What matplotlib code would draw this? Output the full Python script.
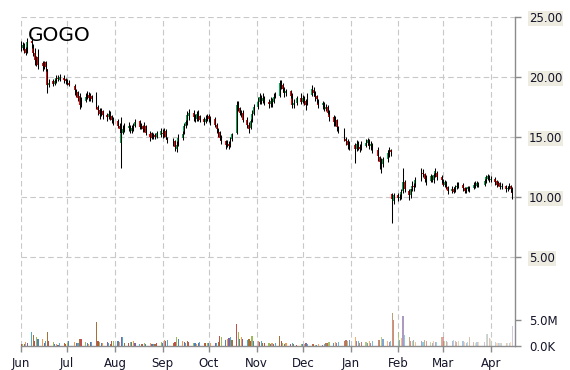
import matplotlib
matplotlib.use("Agg")
import matplotlib.pyplot as plt
import matplotlib.dates as mdates
import numpy as np
import pandas as pd

# ---------------- data ----------------
holidays = ["2015-07-03", "2015-09-07", "2015-11-26", "2015-12-25",
            "2016-01-01", "2016-01-18", "2016-02-15", "2016-03-25"]
trade_days = pd.bdate_range("2015-06-01", "2016-04-15", freq="C", holidays=holidays)

opens = [
    # Jun
    22.9, 22.4, 22.6, 22.3, 22.2, 23.0, 22.6, 22.0, 21.2, 21.6, 21.1, 20.9, 21.2, 20.6, 19.3, 19.6, 19.4, 19.6, 19.9, 19.7, 19.9, 19.8,
    # Jul
    19.7, 19.5, 19.2, 18.9, 18.7, 18.4, 17.7, 18.0, 18.3, 18.5, 18.2, 18.4, 18.4, 17.5, 17.2, 16.9, 17.1, 16.8, 16.6, 16.9, 16.7, 16.4,
    # Aug
    16.3, 15.9, 14.5, 15.3, 15.6, 15.7, 15.9, 15.5, 15.7, 15.9, 16.3, 15.8, 15.9, 15.6, 15.9, 15.2, 15.3, 14.9, 15.1, 15.0, 15.1,
    # Sep
    15.3, 15.2, 15.5, 14.9, 14.8, 14.6, 14.0, 14.3, 14.9, 15.3, 15.9, 16.2, 16.7, 17.0, 16.6, 16.5, 16.9, 16.7, 16.5, 16.2, 16.4,
    # Oct
    16.7, 16.3, 16.5, 16.0, 15.6, 15.4, 14.9, 14.6, 14.3, 14.4, 14.2, 14.8, 15.3, 17.7, 17.4, 17.0, 17.0, 16.4, 16.0, 15.7, 16.3, 16.9,
    # Nov
    17.5, 17.9, 18.3, 18.0, 18.2, 17.9, 17.7, 18.0, 17.9, 18.3, 18.4, 19.5, 19.3, 19.0, 18.6, 18.8, 18.5, 17.6, 17.8, 18.2,
    # Dec
    17.9, 18.2, 18.0, 17.7, 18.5, 18.9, 18.7, 18.4, 18.0, 17.6, 17.8, 17.3, 17.5, 17.0, 16.6, 16.2, 16.4, 15.8, 15.5, 14.8, 14.6, 14.4,
    # Jan
    14.3, 14.0, 14.4, 14.1, 14.0, 14.2, 14.5, 14.7, 14.2, 14.3, 13.9, 13.3, 12.9, 12.7, 13.1, 13.5, 13.9, 10.2, 9.6,
    # Feb
    10.1, 9.9, 10.0, 10.5, 11.2, 10.5, 10.1, 10.7, 10.9, 10.9, 11.4, 12.0, 11.9, 11.6, 11.3, 11.7, 11.4, 11.8, 12.0, 11.6,
    # Mar
    11.4, 11.0, 11.2, 10.8, 10.5, 10.6, 10.5, 10.8, 10.9, 11.0, 10.7, 10.4, 10.6, 10.8, 10.7, 11.0, 10.9, 11.1, 11.0, 11.2, 11.5, 11.7,
    # Apr
    11.4, 11.5, 11.3, 11.0, 11.1, 10.8, 10.9, 10.6, 10.7, 10.9, 10.6,
]

highs = [
    23.0, 22.9, 22.8, 22.5, 23.2, 23.3, 22.7, 22.4, 21.7, 22.3, 21.3, 21.3, 21.3, 20.6, 19.8, 19.8, 19.8, 20.1, 20.1, 20.2, 20.1, 19.9,
    19.8, 19.7, 19.4, 19.0, 18.8, 18.6, 18.3, 18.6, 18.8, 18.7, 18.6, 18.5, 18.7, 17.6, 17.4, 17.4, 17.2, 17.0, 17.2, 17.1, 16.8, 16.6,
    16.5, 16.1, 16.6, 16.0, 16.1, 16.2, 16.0, 16.0, 16.1, 16.5, 16.4, 16.1, 16.0, 16.2, 16.0, 15.5, 15.4, 15.3, 15.3, 15.5, 15.7,
    15.6, 15.7, 15.6, 15.0, 14.9, 14.7, 14.6, 15.2, 15.5, 16.1, 16.4, 17.1, 17.3, 17.2, 16.9, 17.1, 17.2, 16.8, 16.6, 16.8, 16.9,
    16.9, 16.7, 16.6, 16.1, 15.7, 15.5, 15.1, 14.7, 14.7, 14.6, 15.0, 15.3, 18.0, 18.0, 17.5, 17.2, 17.2, 16.6, 16.2, 16.5, 17.2, 17.75,
    18.3, 18.6, 18.5, 18.6, 18.4, 18.1, 18.3, 18.2, 18.6, 18.7, 19.7, 19.7, 19.5, 19.1, 19.0, 18.9, 18.6, 18.1, 18.4, 18.6,
    18.5, 18.4, 18.1, 18.6, 19.3, 19.1, 18.8, 18.5, 18.1, 18.0, 17.9, 17.75, 17.6, 17.2, 16.8, 16.7, 16.5, 15.9, 15.7, 15.0, 14.8, 14.6,
    14.5, 14.7, 14.6, 14.4, 14.6, 14.8, 14.9, 14.8, 14.6, 14.5, 14.1, 13.4, 13.2, 13.3, 13.9, 14.1, 14.0, 10.3, 10.3,
    10.3, 10.2, 10.6, 12.4, 11.4, 10.6, 10.75, 11.3, 11.1, 11.6, 12.4, 12.3, 12.0, 11.8, 11.9, 11.8, 12.0, 12.4, 12.1, 11.8,
    11.5, 11.4, 11.3, 10.9, 10.9, 10.8, 11.0, 11.2, 11.2, 11.1, 10.8, 10.8, 10.9, 10.9, 11.2, 11.3, 11.3, 11.2, 11.5, 11.8, 11.9, 11.8,
    11.7, 11.6, 11.4, 11.3, 11.2, 11.1, 11.0, 10.9, 11.1, 11.0, 10.8,
]

lows = [
    22.1, 22.2, 22.0, 21.8, 22.0, 22.4, 21.7, 21.0, 20.9, 20.6, 20.5, 20.6, 20.5, 18.6, 19.1, 19.2, 19.3, 19.5, 19.6, 19.6, 19.5, 19.4,
    19.3, 19.2, 18.5, 18.3, 18.0, 17.3, 17.5, 17.9, 18.1, 18.0, 18.0, 17.9, 17.3, 16.8, 16.5, 16.7, 16.5, 16.3, 16.5, 16.4, 16.1, 16.0,
    15.7, 15.3, 12.4, 15.2, 15.4, 15.5, 15.3, 15.3, 15.5, 15.8, 15.6, 15.6, 15.4, 15.4, 15.1, 14.6, 14.8, 14.8, 14.8, 14.9, 15.0,
    14.9, 15.0, 14.8, 14.5, 14.2, 13.8, 13.7, 14.2, 14.7, 15.2, 15.7, 16.0, 16.4, 16.3, 16.2, 16.3, 16.3, 16.2, 16.0, 16.1, 16.3,
    16.2, 16.0, 15.8, 15.3, 15.0, 14.7, 14.4, 14.0, 14.1, 14.0, 14.1, 14.6, 15.2, 17.1, 16.8, 16.6, 16.2, 15.7, 15.3, 15.6, 16.2, 16.8,
    17.3, 17.7, 17.7, 17.8, 17.6, 17.4, 17.5, 17.5, 17.8, 18.2, 18.3, 19.0, 18.7, 18.3, 18.4, 18.2, 17.4, 17.4, 17.6, 17.7,
    17.8, 17.6, 17.2, 17.6, 18.4, 18.4, 18.0, 17.8, 17.4, 17.3, 17.1, 17.1, 16.9, 16.3, 15.9, 15.9, 15.5, 15.3, 14.6, 14.3, 14.0, 13.9,
    12.8, 13.8, 13.9, 13.7, 13.9, 14.1, 14.3, 14.0, 13.9, 13.6, 13.0, 12.3, 12.0, 12.5, 12.9, 13.3, 13.4, 7.8, 9.4,
    9.6, 9.7, 9.8, 10.3, 10.4, 9.7, 9.9, 10.5, 10.5, 10.8, 11.3, 11.6, 11.2, 11.0, 11.2, 11.2, 11.1, 11.6, 11.4, 11.1,
    10.9, 10.8, 10.6, 10.25, 10.3, 10.3, 10.4, 10.6, 10.7, 10.5, 10.3, 10.3, 10.5, 10.4, 10.6, 10.7, 10.8, 10.8, 10.9, 11.1, 11.4, 11.2,
    11.2, 11.0, 10.8, 10.9, 10.6, 10.6, 10.4, 10.5, 10.6, 10.4, 9.8,
]

closes = [
    22.4, 22.6, 22.3, 22.0, 22.9, 22.8, 22.0, 21.4, 21.5, 21.0, 20.9, 21.1, 20.8, 19.3, 19.5, 19.4, 19.6, 19.9, 19.8, 20.0, 19.7, 19.6,
    19.5, 19.3, 18.9, 18.7, 18.2, 17.6, 18.0, 18.3, 18.5, 18.2, 18.4, 18.1, 17.5, 17.2, 16.9, 17.1, 16.8, 16.6, 16.9, 16.7, 16.4, 16.3,
    15.9, 15.6, 15.2, 15.6, 15.8, 15.9, 15.6, 15.7, 15.9, 16.2, 15.8, 15.9, 15.6, 15.8, 15.3, 15.0, 14.9, 15.1, 15.0, 15.3, 15.5,
    15.2, 15.5, 15.0, 14.7, 14.5, 14.1, 14.3, 14.9, 15.2, 15.9, 16.2, 16.8, 17.0, 16.6, 16.5, 16.9, 16.6, 16.4, 16.2, 16.5, 16.7,
    16.5, 16.4, 16.0, 15.6, 15.3, 14.9, 14.6, 14.3, 14.4, 14.2, 14.8, 15.2, 17.6, 17.4, 17.0, 16.9, 16.4, 16.0, 15.6, 16.3, 16.9, 17.5,
    17.9, 18.3, 18.0, 18.2, 17.9, 17.7, 18.0, 17.8, 18.3, 18.5, 19.5, 19.3, 19.0, 18.6, 18.8, 18.4, 17.6, 17.8, 18.2, 17.9,
    18.2, 18.0, 17.6, 18.4, 19.0, 18.6, 18.3, 18.1, 17.6, 17.8, 17.4, 17.5, 17.0, 16.6, 16.2, 16.4, 15.8, 15.5, 14.8, 14.6, 14.3, 14.2,
    14.0, 14.4, 14.2, 14.0, 14.3, 14.5, 14.7, 14.2, 14.4, 13.9, 13.4, 12.9, 12.6, 13.1, 13.6, 13.9, 13.7, 9.8, 10.1,
    9.9, 10.0, 10.4, 11.2, 10.6, 10.1, 10.6, 10.9, 10.8, 11.4, 12.0, 11.9, 11.5, 11.3, 11.7, 11.5, 11.8, 12.1, 11.6, 11.4,
    11.0, 11.2, 10.8, 10.5, 10.6, 10.4, 10.8, 10.9, 11.0, 10.7, 10.5, 10.6, 10.8, 10.7, 11.0, 10.9, 11.1, 11.0, 11.3, 11.6, 11.7, 11.4,
    11.5, 11.2, 11.0, 11.1, 10.8, 10.9, 10.6, 10.7, 10.9, 10.6, 10.3,
]

volume_m = [
    0.3, 0.4, 0.3, 0.8, 0.6, 2.6, 2.1, 0.9, 1.7, 1.3, 1.3, 0.6, 1.0, 2.6, 1.0, 0.8, 0.4, 0.3, 0.2, 0.5, 0.6, 0.4,
    0.6, 0.9, 0.7, 0.5, 0.6, 1.4, 1.4, 0.7, 0.5, 0.4, 0.8, 0.8, 4.7, 0.9, 0.8, 0.6, 0.5, 0.7, 0.6, 0.3, 0.9, 1.0,
    0.9, 0.7, 1.6, 1.7, 0.6, 0.5, 0.8, 0.7, 0.9, 0.6, 0.3, 0.4, 0.3, 0.5, 0.4, 0.5, 0.4, 0.3, 0.4, 0.5, 0.7,
    0.6, 1.2, 1.0, 1.2, 0.5, 0.8, 1.7, 1.4, 0.9, 0.7, 0.6, 0.9, 0.8, 0.6, 0.5, 0.4, 0.6, 0.7, 0.6, 0.5, 0.5,
    0.5, 0.5, 0.6, 0.5, 0.7, 1.8, 1.7, 1.2, 1.4, 1.5, 1.6, 1.2, 4.2, 2.6, 1.3, 1.6, 1.4, 1.2, 1.3, 1.0, 1.9, 1.0,
    1.0, 0.8, 0.9, 0.6, 0.5, 0.6, 0.4, 0.5, 0.3, 0.6, 1.9, 0.9, 0.6, 0.3, 0.5, 0.4, 0.5, 0.3, 0.2, 0.4,
    0.4, 0.3, 0.5, 0.3, 0.4, 0.3, 0.2, 0.2, 0.3, 0.2, 0.3, 0.5, 0.6, 0.8, 0.5, 0.7, 0.6, 0.8, 1.0, 1.2, 0.9, 1.1,
    1.7, 1.0, 0.9, 0.6, 0.8, 0.7, 0.5, 0.9, 0.6, 1.0, 1.2, 1.1, 1.7, 1.3, 1.0, 0.8, 0.9, 6.4, 5.0,
    2.6, 1.2, 1.5, 5.8, 2.0, 1.6, 1.0, 0.9, 1.1, 0.8, 1.0, 0.8, 1.2, 0.9, 0.7, 0.6, 0.9, 0.7, 0.8, 1.7,
    1.6, 1.0, 0.9, 0.8, 1.0, 1.1, 0.9, 0.8, 0.9, 1.0, 0.7, 0.6, 0.8, 1.6, 0.7, 0.6, 0.8, 0.7, 0.8, 2.2, 2.3, 1.5,
    1.4, 0.7, 0.6, 0.6, 0.5, 0.6, 0.6, 0.5, 0.6, 0.7, 3.8,
]

price_ticks = [5, 10, 15, 20, 25]
price_labels = ["5.00", "10.00", "15.00", "20.00", "25.00"]
vol_ticks = [0, 5e6]
vol_labels = ["0.0K", "5.0M"]
month_starts = pd.date_range("2015-06-01", "2016-04-01", freq="MS")
month_labels = [d.strftime("%b") for d in month_starts]
symbol = "GOGO"

# ---------------- plot ----------------
o = np.array(opens); h = np.array(highs); l = np.array(lows); c = np.array(closes)
v = np.array(volume_m) * 1e6
x = mdates.date2num(trade_days)

W, H = 570, 370
fig = plt.figure(figsize=(W / 100, H / 100), dpi=100)
left, right, top, bottom = 21, 515, 16.7, 345.7
ax = fig.add_axes([left / W, 1 - bottom / H, (right - left) / W, (bottom - top) / H])

x0 = mdates.date2num(pd.Timestamp("2015-06-01"))
ax.set_xlim(x0, x0 + (right - left) / 1.5403)
ax.set_ylim(-2.42, 25)

up = c >= o
body_col = np.where(up, "#00B050", "#FF0000")
body_bot = np.minimum(o, c)
body_h = np.maximum(np.abs(c - o), 0.06)
ax.bar(x, body_h, bottom=body_bot, width=1.25, color=body_col, linewidth=0, zorder=3)
ax.vlines(x, l, h, color="black", linewidth=0.75, zorder=4)

# volume panel sharing the x axis
axv = ax.twinx()
axv.set_ylim(0, 64e6)
palette = ["#C0504D", "#9BBB59", "#4F81BD", "#F79646", "#8064A2", "#4BACC6", "#A5713A"]
n = len(v)
vcols = []
for i in range(n):
    base = matplotlib.colors.to_rgb(palette[i % len(palette)])
    a = 1.0 if i < 125 else max(0.35, 1.0 - (i - 125) * 0.0075)
    vcols.append((*base, a))
axv.bar(x, v, width=0.75, color=vcols, linewidth=0, zorder=2)
axv.set_yticks(vol_ticks)
axv.set_yticklabels(vol_labels)
for s in axv.spines.values():
    s.set_visible(False)
axv.tick_params(axis="y", colors="#8c8c8c", labelcolor="#14142a", labelsize=8.5,
                length=4, width=1.0, pad=6)

grid_col = "#c8c8c8"
ax.yaxis.tick_right()
ax.yaxis.set_label_position("right")
ax.set_yticks(price_ticks)
ax.set_yticklabels(price_labels, bbox=dict(facecolor="#EEEBE0", edgecolor="none", pad=0.8))
ax.set_xticks(mdates.date2num(month_starts))
ax.set_xticklabels(month_labels)
ax.grid(True, linestyle=(0, (5, 3)), color=grid_col, linewidth=0.8, zorder=0)
ax.set_axisbelow(True)
for s in ["left", "top"]:
    ax.spines[s].set_visible(False)
for s in ["right", "bottom"]:
    ax.spines[s].set_color("#8c8c8c")
    ax.spines[s].set_linewidth(1.0)
ax.tick_params(axis="both", colors="#8c8c8c", labelcolor="#14142a", labelsize=8.5,
               length=4, width=1.0, direction="out")
ax.tick_params(axis="y", pad=6, left=False, labelleft=False, right=True, labelright=True)
ax.tick_params(axis="x", pad=4)

fig.text(28 / W, 1 - 41 / H, symbol, fontsize=14.5, color="black", va="baseline", ha="left")

fig.savefig("out.png", dpi=100)
